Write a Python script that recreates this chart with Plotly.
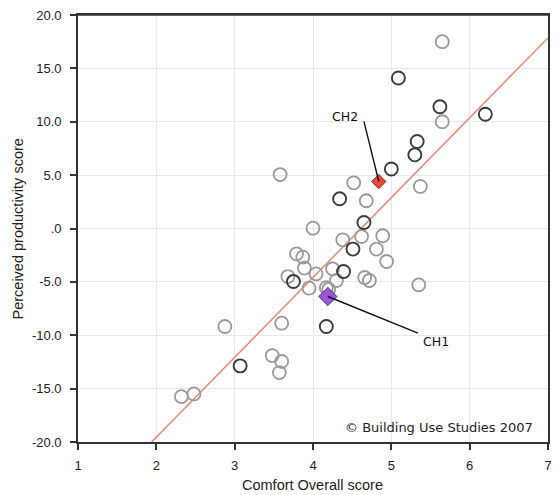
import plotly.graph_objects as go

# Data
x_dark = [5.09, 5.62, 6.20, 5.33, 5.30, 5.00, 4.34, 4.65, 4.51, 4.39, 3.75, 4.17, 3.07]
y_dark = [14.1, 11.4, 10.7, 8.15, 6.9, 5.57, 2.78, 0.56, -1.93, -4.03, -4.97, -9.18, -12.87]

x_light = [5.65, 5.65, 5.37, 4.52, 4.68, 4.00, 3.58, 4.38, 4.62, 4.89, 4.81, 4.94,
           3.79, 3.87, 3.89, 4.04, 4.25, 4.30, 3.68, 3.95, 4.17, 4.20, 4.66, 4.72,
           5.35, 2.875, 3.60, 3.48, 3.60, 3.57, 2.32, 2.48]
y_light = [17.5, 10.0, 3.94, 4.28, 2.6, 0.03, 5.05, -1.06, -0.75, -0.68, -1.93, -3.09,
           -2.37, -2.68, -3.71, -4.25, -3.78, -4.87, -4.5, -5.59, -5.55, -5.7, -4.59, -4.87,
           -5.28, -9.18, -8.87, -11.9, -12.46, -13.5, -15.75, -15.5]

ch_names = ["CH1", "CH2"]
ch_x = [4.19, 4.84]
ch_y = [-6.37, 4.4]

fit_x = [1.94, 7.0]
fit_y = [-20.0, 17.85]

x_ticks = [1, 2, 3, 4, 5, 6, 7]
y_ticks = [20, 15, 10, 5, 0, -5, -10, -15, -20]
y_ticklabels = ["20.0", "15.0", "10.0", "5.0", ".0", "-5.0", "-10.0", "-15.0", "-20.0"]

x_title = "Comfort Overall score"
y_title = "Perceived productivity score"
credit = "© Building Use Studies 2007"

fig = go.Figure()

fig.add_trace(go.Scatter(
    x=fit_x, y=fit_y, mode="lines",
    line=dict(color="#e3907a", width=1.6), hoverinfo="skip"))

fig.add_trace(go.Scatter(
    x=x_light, y=y_light, mode="markers",
    marker=dict(symbol="circle-open", size=13, color="#9a9a9a", line=dict(width=1.8))))

fig.add_trace(go.Scatter(
    x=x_dark, y=y_dark, mode="markers",
    marker=dict(symbol="circle-open", size=13, color="#3c3c3c", line=dict(width=1.9))))

# Callout lines
fig.add_shape(type="line", x0=ch_x[1], y0=ch_y[1], x1=4.65, y1=10.03,
              line=dict(color="#111111", width=1.4))
fig.add_shape(type="line", x0=ch_x[0], y0=ch_y[0], x1=5.34, y1=-9.8,
              line=dict(color="#111111", width=1.4))

# top border of the frame
fig.add_shape(type="line", xref="paper", yref="paper", x0=0, x1=1, y0=1, y1=1,
              line=dict(color="#333333", width=1.6))

fig.add_trace(go.Scatter(
    x=[ch_x[0]], y=[ch_y[0]], mode="markers",
    marker=dict(symbol="diamond", size=14, color="#9b55d6",
                line=dict(color="#4a2a6a", width=1))))
fig.add_trace(go.Scatter(
    x=[ch_x[1]], y=[ch_y[1]], mode="markers",
    marker=dict(symbol="diamond", size=11, color="#e8483a",
                line=dict(color="#8a2a20", width=1))))

fig.add_annotation(x=4.41, y=10.5, text=ch_names[1], showarrow=False,
                   font=dict(family="DejaVu Sans", size=12.5, color="#111111"))
fig.add_annotation(x=5.57, y=-10.6, text=ch_names[0], showarrow=False,
                   font=dict(family="DejaVu Sans", size=12.5, color="#111111"))
fig.add_annotation(x=0.9723, y=0.0335, xref="paper", yref="paper", xanchor="right",
                   yanchor="middle", text=credit, showarrow=False,
                   font=dict(family="DejaVu Sans", size=13, color="#222222"))

fig.add_annotation(x=0.498, y=-0.1007, xref="paper", yref="paper", xanchor="center",
                   yanchor="middle", text=x_title, showarrow=False,
                   font=dict(family="Liberation Sans, Arial", size=14.5, color="#222222"))
fig.add_annotation(x=-0.1277, y=0.5, xref="paper", yref="paper", xanchor="center",
                   yanchor="middle", text=y_title, showarrow=False, textangle=-90,
                   font=dict(family="Liberation Sans, Arial", size=14.5, color="#222222"))

# page body has an 8px margin, so offsets compensate for it
fig.update_layout(
    width=559, height=495,
    margin=dict(l=70, r=19, t=7, b=61, autoexpand=False),
    plot_bgcolor="white", paper_bgcolor="white",
    showlegend=False,
    font=dict(family="Liberation Sans, Arial", size=13, color="#222222"),
)
fig.update_xaxes(
    range=[1, 7], tickvals=x_ticks, ticks="outside", ticklen=6, tickwidth=1.5,
    tickcolor="#333333", showline=True, linecolor="#333333", linewidth=1.6, mirror=True,
    showgrid=True, gridcolor="#e8e8e8", gridwidth=1, zeroline=False, automargin=False,
    ticklabeloverflow="allow", ticklabelstandoff=5,
)
fig.update_yaxes(
    range=[-20, 20], tickvals=y_ticks, ticktext=y_ticklabels, ticks="outside", ticklen=6,
    tickwidth=1.5, tickcolor="#333333", showline=True, linecolor="#333333", linewidth=1.6,
    mirror=True, showgrid=True, gridcolor="#e8e8e8", gridwidth=1, zeroline=False,
    automargin=False, ticklabeloverflow="allow", ticklabelstandoff=6,
)

fig.write_html("out.html")
